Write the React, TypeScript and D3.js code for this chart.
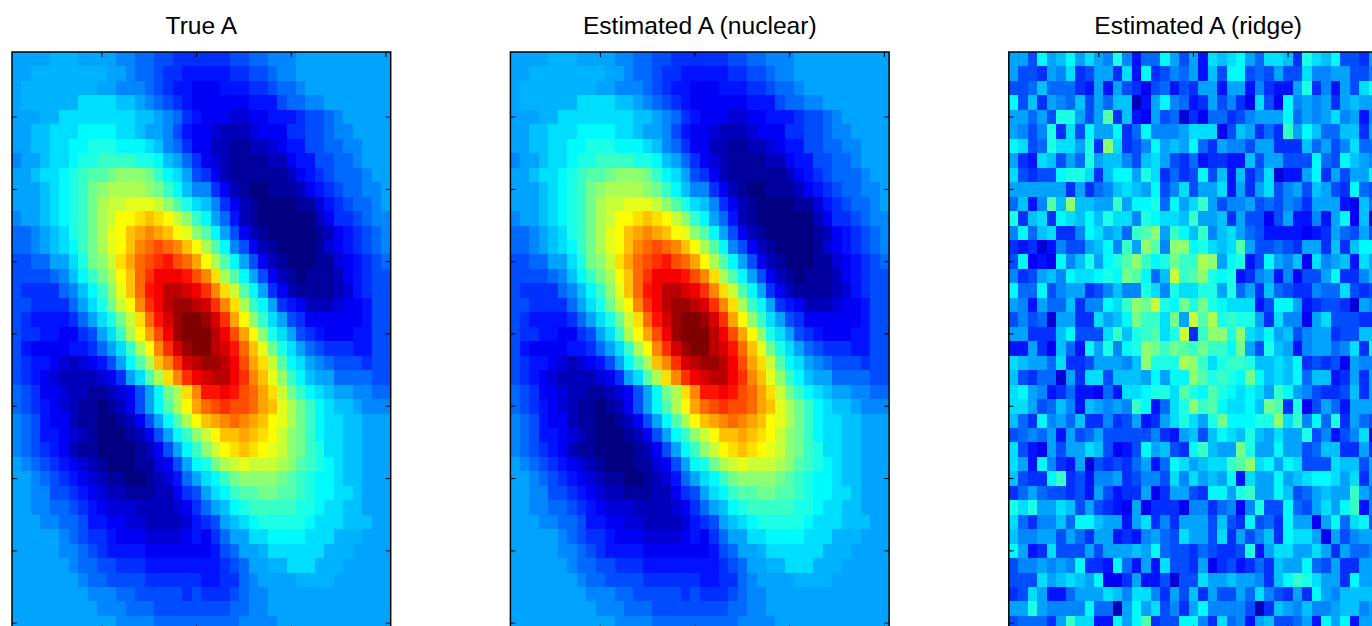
import React from "react";
import * as d3 from "d3";

// One character per cell, base 36: 0 is the bottom of the jet scale, z the top.
// An upper-case letter sits half a step above its lower-case level.
const trueA = [
  "aaaaAAAaaaa9988776666667788999aaaaaaaaaa",
  "aaAAAAAAAAaa988766555556677899aaaaaaaaaa",
  "aAAAAAAAAaa99987655444555667889aaaaaaaaa",
  "aAAAAAAccccbba9876544444455578899aaaaaaa",
  "aaaAAccccccccbba9865444334455567789aaaaa".slice(0, 40),
  "aabbcccddddccbaa97544322234446677899aaaa",
  "aabbccddeeedddcb986442211223455778899aaa",
  "9aabccdeeffffeedba864321111224557788" + "9aaa",
  "aabccdefgghiiihfdca76421111112456788" + "89aa",
  "aaabcdefhijjjjihfdb99642100111245678899a",
  "aaabcdefhjkklllkigecb964210000113567889a",
  "9aabcdefhjkmmnonmkifda852100000024667899",
  "889abcefhjlmopqpomligda74210000012456789",
  "889abcdfhjlmoqrsrqomjgd97421000013456789",
  "7788aacehiknprstusrpmjgda742100011345678",
  "777789bdfhjmortvvvusqnjgda74210111245677",
  "7666689bdfiloruvxxwvtqnkgda6421111235677",
  "7766668acehkmqtvxyyxwtqnjfda654222344577",
  "76555568acehknruwyzzywtpmifca76444444577",
  "766554467acfjmpsvyzzzxvspmieca7654445577".slice(0, 9) + "a" + "cfjmpsvyzz" + "zxvspmieca" + "7654445577",
  "7544445568acfjmqtwyzzxwurolheca876665577",
  "76554323457adgjoqtwxyyxvspnkgdca98777677",
  "765432222346acgjnqtvwxxvtqolifdbaa888877",
  "87644322112347adhjnquuvusrpnkhfdcbaa9988",
  "87654321101247adgjmprstssrpoljhfdcbba999",
  "987544211001247adgjmopqrqpomljhfdccbbaaa",
  "9875543210001247adfikmooponmkihfdccbbaaa",
  "98765421100001247adfikmnonmlkihfeccbbaaa",
  "a98765432100011347adehjklkkkjigfedcbbaaa",
  "aa98765432110012358acdfhiiiihgfeddcbbaaa",
  "aa997765432211122467acdfgghhggfeddccbaaa",
  "aa9988765433322223468abdefffffeedccbbaaa",
  "aaa9988755443322223567abcdeeeeedcccbbbaa",
  "aaaaa987665444333345468aaccddddcccAAAaaa",
  "aaaaa9987655554444444578aaAccccccAAAaaaa",
  "aaaaaa9887766655555555678aaAAcccAAAaaaaa",
  "aaaaaaa9887777666666556689aaaaAAAAaaaaaa",
  "aaaaaaaa9998877777676667899aaaaaaaaaaaaa",
  "aaaaaaaaa999888777777778899aaaaaaaaaaaaa",
  "aaaaaaaaaaa99998888888889999aaaaaaaaaaaa",
];

// The nuclear-norm estimate is indistinguishable from the true matrix at this resolution.
const nuclearA = trueA;

const ridgeA = [
  "aa7dabdaca9e9588da7a5cbcda8ccb6ecbd776a",
  "a776a9c67aa6c5d6798a5b7dd787a77c99aa779",
  "778b88865a5a76478576aa5aa59655ae695a7ce",
  "d7b6a98b7a8bb25ad9856a7964c74d9a9a6abaa",
  "aa8a7eea7ag6b54a7836488679aaad8a9ac9a59",
  "a979e6c7daad68d999accc47ba686fadb88bb6a",
  "dc78eccae6ic679dabad86a997aa666b8a79c88",
  "a65cb7a8eabb97bca76856655b7aa777d87dba9",
  "c7677deec6bddaec6867d7b5b68c355ad6a7aad",
  "aaaaaa6a689bcbad79c7aac5a6ac79a7ba76d87",
  "8b59gbibbaafadde8dacfa799a787986aaa54b8",
  "e6bc6dcbdbecc9edccbfaab6a7747a5595ad4b3",
  "9d8bc669dcab8fgiafdbf9bca875555456a87a7",
  "65635977abd9faig9iidecbcga77876aa6b6bdd",
  "7d454d9beadegifdehffjiade57da9b4c9ab5ca",
  "967ab9dccdedhgd8bkfgiede569a59477ad669b",
  "d88d79aa679b99ec9ecceeae8a6b8766988c767",
  "a95a88b699dcfihkedhehedccc57dda567763a9",
  "79783aa66cabdhffchakgjefeea6c994ac77766",
  "aa666bd777cfbefgcek6fiieicbdab79aa677bb",
  "55a64b85dae9deihfhgfhffdha7eba59aa89c6d",
  "cbaa8c667aaa9bieeejifceffebbcbd67674a99",
  "b76883a6cc7bbbadaddigefedhdbcbd8bb56a6a",
  "cda956855485ccdeecgedgedcdcafda97667b6a",
  "cca78b95ba9a9fd58ceifgdccdbhg6e47a85aaa",
  "b86d9a8b66967a56acecaehdddeeicf9d8e6a87",
  "7898a5a78a77777965ab7bdcbebacaae79579c3",
  "c754a7aacb7457dab76dfbaaheaadaa78bb66a6",
  "ca5d965a376768a58dcabccfgicdadc777cbb7a",
  "b766df67599a67997c9cabad5caadabcddcac6a",
  "68a877675a7566a46aa76ddaefaadb78abaafa8",
  "eceaacb7a7654a466649968949e77d87acadf59",
  "c8699b8ddbaa5ac696aaa7b76d786daa4ad8cd7",
  "b99aa7a86aa5659a87caa7c6a79b6dcca4a79aa",
  "da56c777a7aaabad877687667e5accaaca6a889",
  "799a9a9d665d85a5c776a4675686baad87a66aa",
  "777cabcbad446a557377caabaa96bdfecaa6daa",
  "67ca558aaacb9cc96a7b6a77a8c976a6da9bbbb",
  "aaea9999d882adac796ad9999726ba9b99abb9a",
  "78886afcc55dadg677dd96c895ab778a5dad5aa",
];

const panelTitles = ["True A", "Estimated A (nuclear)", "Estimated A (ridge)"];
const panelRows = [trueA, nuclearA, ridgeA];
const panelLefts = [12, 510.4, 1008.8];
const xTicks = [10, 20, 30, 40];
const yTicks = [5, 10, 15, 20, 25, 30, 35, 40];

const W = 1372;
const H = 626;
const TOP = 52;
const PW = 378.7;
const PH = 578.4;
const TICK = 5;

const jet = (v: number) => {
  const c = (o: number) => Math.max(0, Math.min(1, 1.5 - Math.abs(4 * v - o)));
  return d3.rgb(c(3) * 255, c(2) * 255, c(1) * 255).formatRgb();
};
const value = d3.scaleLinear().domain([0, 35]).range([0, 1]);
const level = (ch: string) => parseInt(ch, 36) + (ch >= "A" && ch <= "Z" ? 0.5 : 0);

function Panel({ left, title, rows }: { left: number; title: string; rows: string[] }) {
  const x = d3.scaleLinear().domain([0.5, 40.5]).range([left, left + PW]);
  const y = d3.scaleLinear().domain([0.5, 40.5]).range([TOP, TOP + PH]);
  const bottom = TOP + PH;
  return (
    <g>
      <text
        x={left + PW / 2}
        y={34}
        textAnchor="middle"
        fontFamily="'Liberation Sans', Arial, sans-serif"
        fontSize={24.6}
        fill="#000"
      >
        {title}
      </text>
      <g shapeRendering="crispEdges">
        {rows.map((row, r) =>
          row.split("").map((ch, c) => {
            const x0 = Math.round(x(c + 0.5));
            const x1 = Math.round(x(c + 1.5));
            const y0 = Math.round(y(r + 0.5));
            const y1 = Math.round(y(r + 1.5));
            return (
              <rect
                key={`${r}-${c}`}
                x={x0}
                y={y0}
                width={x1 - x0}
                height={y1 - y0}
                fill={jet(value(level(ch)))}
              />
            );
          })
        )}
      </g>
      <g stroke="#000" strokeWidth={1} fill="none">
        {xTicks.map((t) => (
          <g key={`x${t}`}>
            <line x1={x(t)} x2={x(t)} y1={TOP} y2={TOP + TICK} />
            <line x1={x(t)} x2={x(t)} y1={bottom} y2={bottom - TICK} />
          </g>
        ))}
        {yTicks.map((t) => (
          <g key={`y${t}`}>
            <line x1={left} x2={left + TICK} y1={y(t)} y2={y(t)} />
            <line x1={left + PW} x2={left + PW - TICK} y1={y(t)} y2={y(t)} />
          </g>
        ))}
        <rect x={left} y={TOP} width={PW} height={PH} strokeWidth={1.5} />
      </g>
    </g>
  );
}

export default function App() {
  return (
    <svg
      width={W}
      height={H}
      viewBox={`0 0 ${W} ${H}`}
      style={{ position: "absolute", left: 0, top: 0, display: "block", background: "#fff" }}
    >
      {panelTitles.map((t, i) => (
        <Panel key={t} left={panelLefts[i]} title={t} rows={panelRows[i]} />
      ))}
    </svg>
  );
}
